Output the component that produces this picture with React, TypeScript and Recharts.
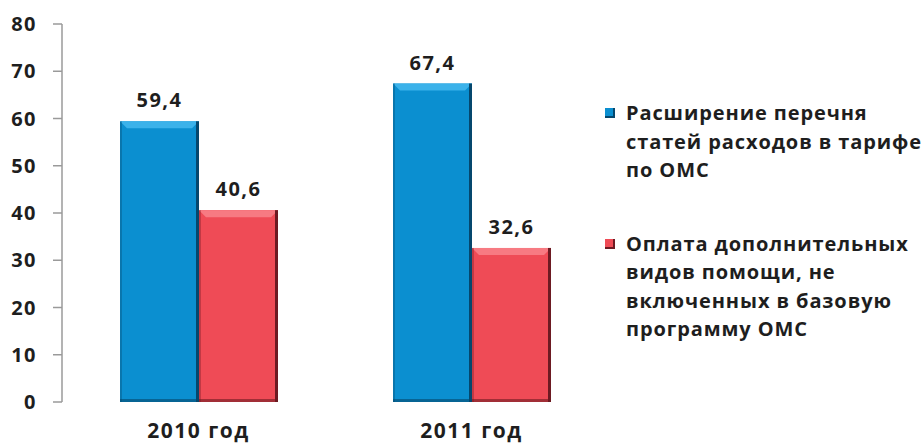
import { BarChart, Bar, XAxis, YAxis, LabelList } from 'recharts';

const years = ['2010 год', '2011 год'];
const expansion = [59.4, 67.4];
const additional = [40.6, 32.6];
const yTicks = [0, 10, 20, 30, 40, 50, 60, 70, 80];

const seriesNames = ['Расширение перечня статей расходов в тарифе по ОМС', 'Оплата дополнительных видов помощи, не включенных в базовую программу ОМС'];
const legendLines = [
  ['Расширение перечня', 'статей расходов в тарифе', 'по ОМС'],
  ['Оплата дополнительных', 'видов помощи, не', 'включенных в базовую', 'программу ОМС'],
];

const BLUE = { base: '#0b8fd0', light: '#3bb2ea', dark: '#05476d' };
const RED = { base: '#ef4b56', light: '#f77a82', dark: '#6d1a22' };

const data = years.map((year, i) => ({ year, expansion: expansion[i], additional: additional[i] }));

const FONT = '"Open Sans", sans-serif';

function BevelBar(props: any) {
  const { x, y, width, height, colors } = props;
  if (!height || height <= 0) return null;
  const b = 7;
  return (
    <g>
      <rect x={x} y={y} width={width} height={height} fill={colors.base} />
      <polygon points={`${x},${y} ${x + width},${y} ${x + width - b},${y + b} ${x + b},${y + b}`} fill={colors.light} />
      <rect x={x + width - 3} y={y} width={3} height={height} fill={colors.dark} />
      <rect x={x} y={y} width={2} height={height} fill={colors.dark} opacity={0.35} />
      <rect x={x} y={y + height - 3} width={width} height={3} fill={colors.dark} opacity={0.6} />
    </g>
  );
}

const fmt = (v: any) => String(v).replace('.', ',');

function LegendBox() {
  const cols = [BLUE, RED];
  return (
    <div style={{ position: 'absolute', left: 605, top: 99, width: 319, fontFamily: FONT, fontWeight: 700, fontSize: 20, color: '#1e1e1e', lineHeight: '28.5px', letterSpacing: 0.9 }}>
      {legendLines.map((lines, i) => (
        <div key={i} title={seriesNames[i]} style={{ position: 'relative', paddingLeft: 21, marginBottom: i === 0 ? 45 : 0 }}>
          <span style={{ position: 'absolute', left: 0, top: 9, width: 10, height: 10, background: cols[i].base, boxShadow: `inset -2px -2px 0 ${cols[i].dark}` }} />
          {lines.map((l) => (
            <div key={l} style={{ whiteSpace: 'nowrap' }}>{l}</div>
          ))}
        </div>
      ))}
    </div>
  );
}

const labelStyle = { fill: '#1e1e1e', fontSize: 20, fontWeight: 700, fontFamily: FONT, letterSpacing: 1.5 };

export default function App() {
  return (
    <div style={{ position: 'absolute', left: 0, top: 0, width: 924, height: 445, background: '#fff' }}>
      <BarChart width={924} height={445} data={data} margin={{ top: 24, right: 316, bottom: 0, left: 0 }} barCategoryGap={58} barGap={0}>
        <YAxis
          domain={[0, 80]}
          ticks={yTicks}
          width={62}
          interval={0}
          axisLine={{ stroke: '#9a9a9a', strokeWidth: 1.5 }}
          tickLine={{ stroke: '#9a9a9a', strokeWidth: 1.5 }}
          tickSize={9}
          tickMargin={16}
          tick={{ fill: '#1e1e1e', fontSize: 20, fontWeight: 700, fontFamily: FONT, letterSpacing: 1.5 }}
        />
        <XAxis
          dataKey="year"
          height={43}
          axisLine={false}
          tickLine={false}
          tickSize={0}
          tickMargin={21}
          tick={{ fill: '#1e1e1e', fontSize: 21, fontWeight: 700, fontFamily: FONT, letterSpacing: 1.5 }}
        />
        <Bar dataKey="expansion" name={seriesNames[0]} isAnimationActive={false} shape={(p: any) => <BevelBar {...p} colors={BLUE} />}>
          <LabelList dataKey="expansion" position="top" offset={14} formatter={fmt} style={labelStyle} />
        </Bar>
        <Bar dataKey="additional" name={seriesNames[1]} isAnimationActive={false} shape={(p: any) => <BevelBar {...p} colors={RED} />}>
          <LabelList dataKey="additional" position="top" offset={14} formatter={fmt} style={labelStyle} />
        </Bar>
      </BarChart>
      <LegendBox />
    </div>
  );
}
